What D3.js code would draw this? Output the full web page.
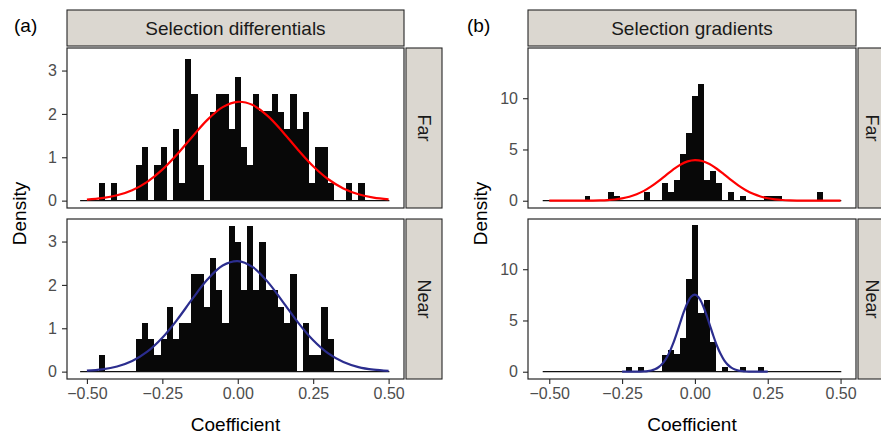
<!DOCTYPE html>
<html>
<head>
<meta charset="utf-8">
<script src="https://cdn.jsdelivr.net/npm/d3@7/dist/d3.min.js"></script>
<style>
  body { margin: 0; background: #fff; }
  text { font-family: "Liberation Sans", Arial, Helvetica, sans-serif; }
</style>
</head>
<body>
<div id="chart-area"></div>
<script>
// histogram bins: 50 bins of equal width from binStart
const binStart = -0.5225
const binWidth = 0.0205

// densities per bin
const diffFar = [0, 0, 0, 0.41, 0, 0.41, 0, 0, 0, 0.83,
  1.24, 0, 0.83, 1.24, 0, 1.66, 0.41, 3.27, 2.45, 0.83,
  0, 2.05, 2.45, 2.45, 1.65, 2.86, 1.24, 0.83, 2.45, 2.07,
  2.07, 2.45, 2.05, 1.65, 2.45, 1.65, 2.05, 0.41, 1.24, 1.24,
  0.41, 0, 0, 0.41, 0, 0.41, 0, 0, 0, 0]
const diffNear = [0, 0, 0, 0.385, 0, 0, 0, 0, 0, 0.75,
  1.12, 0.75, 0.385, 0.75, 1.5, 0.75, 1.13, 1.13, 2.25, 2.25,
  1.5, 2.62, 1.88, 1.13, 3.37, 2.98, 1.88, 3.37, 1.88, 2.98,
  1.88, 1.88, 1.5, 1.13, 2.25, 0, 1.13, 0.385, 0.385, 1.5,
  0.75, 0, 0, 0, 0, 0, 0, 0, 0, 0]
const gradFar = [0, 0, 0, 0, 0, 0, 0, 0.46, 0, 0,
  0, 0.88, 0.46, 0, 0, 0, 0, 0.88, 0, 0,
  1.7, 0.88, 2.05, 4.53, 6.58, 10.2, 11.4, 2.05, 2.9, 1.7,
  0, 0.88, 0, 0.46, 0, 0, 0, 0.46, 0.46, 0.46,
  0, 0, 0, 0, 0, 0, 0.88, 0, 0, 0]
const gradNear = [0, 0, 0, 0, 0, 0, 0, 0, 0, 0,
  0, 0, 0, 0, 0.46, 0, 0.46, 0, 0, 0,
  1.66, 2.1, 1.7, 3.3, 9.0, 14.27, 5.73, 6.95, 2.9, 0,
  0.46, 0, 0, 0.46, 0, 0, 0.46, 0, 0, 0,
  0, 0, 0, 0, 0, 0, 0, 0, 0, 0]

// fitted normal curves
const diffCurveX = [-0.5, -0.45, -0.4, -0.35, -0.3, -0.25, -0.2, -0.15, -0.1, -0.05, 0,
  0.05, 0.1, 0.15, 0.2, 0.25, 0.3, 0.35, 0.4, 0.45, 0.5]
const diffFarCurve = [0.024, 0.057, 0.123, 0.241, 0.434, 0.714, 1.075, 1.481, 1.868, 2.157, 2.279,
  2.203, 1.949, 1.579, 1.170, 0.794, 0.493, 0.280, 0.146, 0.069, 0.030]
const diffNearCurve = [0.021, 0.052, 0.119, 0.246, 0.461, 0.782, 1.205, 1.682, 2.130, 2.447, 2.549,
  2.409, 2.064, 1.605, 1.131, 0.723, 0.419, 0.221, 0.105, 0.045, 0.018]

const gradFarX = [-0.5, -0.475, -0.45, -0.425, -0.4, -0.375, -0.35, -0.325, -0.3, -0.275,
  -0.25, -0.225, -0.2, -0.175, -0.15, -0.125, -0.1, -0.075, -0.05, -0.025, 0,
  0.025, 0.05, 0.075, 0.1, 0.125, 0.15, 0.175, 0.2, 0.225, 0.25,
  0.275, 0.3, 0.325, 0.35, 0.375, 0.4, 0.425, 0.45, 0.475, 0.5]
const gradFarCurve = [0, 0, 0, 0.001, 0.003, 0.006, 0.014, 0.031, 0.063, 0.122,
  0.223, 0.383, 0.624, 0.959, 1.392, 1.910, 2.477, 3.034, 3.512, 3.841, 3.969,
  3.876, 3.576, 3.118, 2.568, 1.999, 1.470, 1.022, 0.671, 0.416, 0.244,
  0.135, 0.071, 0.035, 0.016, 0.007, 0.003, 0.001, 0, 0, 0]

const gradNearX = [-0.25, -0.2375, -0.225, -0.2125, -0.2, -0.1875, -0.175, -0.1625, -0.15, -0.1375,
  -0.125, -0.1125, -0.1, -0.0875, -0.075, -0.0625, -0.05, -0.0375, -0.025, -0.0125, 0,
  0.0125, 0.025, 0.0375, 0.05, 0.0625, 0.075, 0.0875, 0.1, 0.1125, 0.125,
  0.1375, 0.15, 0.1625, 0.175, 0.1875, 0.2, 0.2125, 0.225, 0.2375, 0.25]
const gradNearCurve = [0, 0, 0.001, 0.002, 0.005, 0.012, 0.028, 0.060, 0.124, 0.240,
  0.438, 0.755, 1.227, 1.886, 2.732, 3.737, 4.826, 5.878, 6.760, 7.338, 7.518,
  7.271, 6.636, 5.718, 4.649, 3.568, 2.585, 1.767, 1.141, 0.694, 0.399,
  0.217, 0.111, 0.054, 0.024, 0.011, 0.004, 0.002, 0.001, 0, 0]

const xTicks = [-0.5, -0.25, 0, 0.25, 0.5]
const xTickLabels = ['\u22120.50', '\u22120.25', '0.00', '0.25', '0.50']
const diffYTicks = [0, 1, 2, 3]
const gradYTicks = [0, 5, 10]

const WIDTH = 881
const HEIGHT = 436
const RED = '#ff0000'
const BLUE = '#2b2d8e'
const STRIP = '#dbd7d0'
const LINE = '#262626'

const svg = d3.select('#chart-area').append('svg')
  .attr('width', WIDTH)
  .attr('height', HEIGHT)

const rows = [
  { name: 'Far', top: 48, bottom: 208 },
  { name: 'Near', top: 219, bottom: 379 }
]

const cols = [
  {
    tag: '(a)', tagX: 14, title: 'Selection differentials',
    left: 67, right: 404, xDomain: [-0.566, 0.551], yDomain: [-0.17, 3.52],
    yTicks: diffYTicks, stripText: 18,
    panels: [
      { bins: diffFar, cx: diffCurveX, cy: diffFarCurve, color: RED },
      { bins: diffNear, cx: diffCurveX, cy: diffNearCurve, color: BLUE }
    ]
  },
  {
    tag: '(b)', tagX: 467, title: 'Selection gradients',
    left: 528, right: 856, xDomain: [-0.573, 0.553], yDomain: [-0.71, 14.9],
    yTicks: gradYTicks, stripText: 14,
    panels: [
      { bins: gradFar, cx: gradFarX, cy: gradFarCurve, color: RED },
      { bins: gradNear, cx: gradNearX, cy: gradNearCurve, color: BLUE }
    ]
  }
]

cols.forEach(col => {
  const x = d3.scaleLinear().domain(col.xDomain).range([col.left, col.right])

  // panel tag
  svg.append('text')
    .attr('x', col.tagX)
    .attr('y', 32)
    .attr('font-size', '19px')
    .attr('fill', '#000')
    .text(col.tag)

  // top strip
  svg.append('rect')
    .attr('x', col.left).attr('y', 10)
    .attr('width', col.right - col.left).attr('height', 36)
    .attr('fill', STRIP).attr('stroke', LINE).attr('stroke-width', 1.1)
  svg.append('text')
    .attr('x', (col.left + col.right) / 2)
    .attr('y', 35)
    .attr('text-anchor', 'middle')
    .attr('font-size', '19px')
    .attr('fill', '#1a1a1a')
    .text(col.title)

  rows.forEach((row, ri) => {
    const p = col.panels[ri]
    const y = d3.scaleLinear().domain(col.yDomain).range([row.bottom, row.top])
    const g = svg.append('g')

    // bars
    g.selectAll('rect.bar')
      .data(p.bins.map((v, i) => ({ x0: binStart + i * binWidth, v })).filter(d => d.v > 0))
      .enter().append('rect')
      .attr('class', 'bar')
      .attr('x', d => x(d.x0))
      .attr('width', d => x(d.x0 + binWidth) - x(d.x0))
      .attr('y', d => y(d.v))
      .attr('height', d => y(0) - y(d.v))
      .attr('fill', '#080808')
      .attr('shape-rendering', 'crispEdges')

    // zero-height bins show as a baseline
    g.append('line')
      .attr('x1', x(binStart)).attr('x2', x(binStart + p.bins.length * binWidth))
      .attr('y1', y(0)).attr('y2', y(0))
      .attr('stroke', '#111').attr('stroke-width', 1.3)

    // normal curve
    const line = d3.line()
      .x(d => x(d[0]))
      .y(d => y(d[1]))
      .curve(d3.curveCatmullRom)
    g.append('path')
      .datum(d3.zip(p.cx, p.cy))
      .attr('d', line)
      .attr('fill', 'none')
      .attr('stroke', p.color)
      .attr('stroke-width', 2.2)

    // panel border
    g.append('rect')
      .attr('x', col.left).attr('y', row.top)
      .attr('width', col.right - col.left).attr('height', row.bottom - row.top)
      .attr('fill', 'none').attr('stroke', LINE).attr('stroke-width', 1.2)

    // y axis
    const yAxis = d3.axisLeft(y).tickValues(col.yTicks)
      .tickFormat(d => String(d)).tickSize(5).tickPadding(5)
    const ya = g.append('g')
      .attr('transform', `translate(${col.left}, 0)`)
      .call(yAxis)
    ya.select('.domain').remove()
    ya.selectAll('line').attr('stroke', LINE).attr('stroke-width', 1.1)
    ya.selectAll('text').attr('font-size', '16px').attr('fill', '#4d4d4d')
      .style('font-family', '"Liberation Sans", Arial, sans-serif')

    // right strip
    const sx = col.right + 2
    g.append('rect')
      .attr('x', sx).attr('y', row.top)
      .attr('width', 36).attr('height', row.bottom - row.top)
      .attr('fill', STRIP).attr('stroke', LINE).attr('stroke-width', 1.1)
    g.append('text')
      .attr('transform', `translate(${sx + col.stripText}, ${(row.top + row.bottom) / 2}) rotate(90)`)
      .attr('text-anchor', 'middle')
      .attr('dy', '0.35em')
      .attr('font-size', '18px')
      .attr('fill', '#1a1a1a')
      .text(row.name)

    // x axis only on bottom row
    if (ri === rows.length - 1) {
      const xAxis = d3.axisBottom(x).tickValues(xTicks)
        .tickFormat((d, i) => xTickLabels[i]).tickSize(5).tickPadding(4)
      const xa = g.append('g')
        .attr('transform', `translate(0, ${row.bottom})`)
        .call(xAxis)
      xa.select('.domain').remove()
      xa.selectAll('line').attr('stroke', LINE).attr('stroke-width', 1.1)
      xa.selectAll('text').attr('font-size', '16px').attr('fill', '#4d4d4d')
        .style('font-family', '"Liberation Sans", Arial, sans-serif')
    }
  })

  // axis titles
  svg.append('text')
    .attr('x', (col.left + col.right) / 2)
    .attr('y', 431)
    .attr('text-anchor', 'middle')
    .attr('font-size', '19px')
    .attr('fill', '#000')
    .text('Coefficient')

  svg.append('text')
    .attr('transform', `translate(${col.left - 48}, ${(rows[0].top + rows[1].bottom) / 2}) rotate(-90)`)
    .attr('text-anchor', 'middle')
    .attr('dy', '0.35em')
    .attr('font-size', '19px')
    .attr('fill', '#000')
    .text('Density')
})
</script>
</body>
</html>
